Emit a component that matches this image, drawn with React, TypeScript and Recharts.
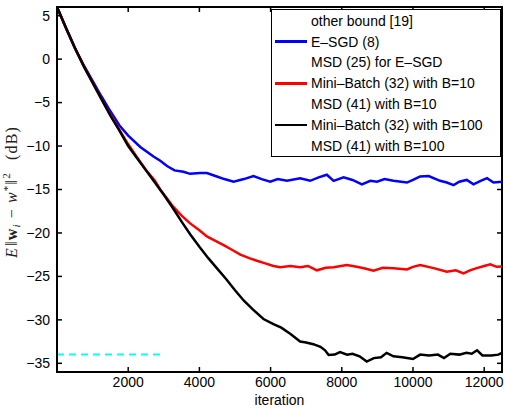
import React from "react";
import { LineChart, Line, XAxis, YAxis, Legend, ReferenceArea } from "recharts";

// E-SGD (8)
const esgdX = [
  0, 250, 500, 750, 1000, 1250, 1500, 1750, 2000, 2340, 2710, 2900, 3090, 3300, 3550, 3740, 4020,
  4210, 4490, 4700, 4960, 5250, 5520, 5750, 5990, 6200, 6460, 6830, 7110, 7350, 7580, 7770, 8050,
  8300, 8565, 8800, 8990, 9200, 9450, 9830, 10000, 10200, 10440, 10760, 10950, 11140, 11300, 11510,
  11700, 11900, 12080, 12260, 12500,
];
const esgdY = [
  6, 3.6, 1.3, -0.7, -2.5, -4.3, -6.0, -7.6, -8.8, -10.1, -11.2, -11.7, -12.3, -12.8, -12.95, -13.2,
  -13.1, -13.1, -13.5, -13.8, -14.1, -13.8, -13.45, -13.8, -14.1, -13.8, -14.0, -13.7, -14.0, -13.6,
  -13.3, -14.0, -13.6, -13.9, -14.4, -14.0, -14.1, -13.8, -14.0, -14.2, -13.9, -13.5, -13.45, -14.0,
  -14.2, -14.5, -14.1, -13.9, -14.4, -14.0, -13.7, -14.2, -14.1,
];

// Mini-Batch (32) with B=10
const mb10X = [
  0, 250, 500, 750, 1000, 1250, 1500, 1750, 2000, 2250, 2500, 2750, 2900, 3270, 3500, 3740, 4000,
  4210, 4450, 4680, 4900, 5150, 5400, 5615, 5850, 6080, 6270, 6550, 6830, 7050, 7300, 7550, 7770,
  8140, 8420, 8650, 8890, 9150, 9450, 9830, 10000, 10200, 10580, 10950, 11200, 11420, 11600, 11790,
  12000, 12170, 12350, 12500,
];
const mb10Y = [
  6, 3.6, 1.3, -0.8, -2.7, -4.6, -6.4, -8.1, -9.8, -11.3, -12.75, -14.0, -15.0, -17.0, -18.0, -18.9,
  -19.7, -20.4, -20.9, -21.4, -21.9, -22.5, -22.9, -23.2, -23.5, -23.8, -23.95, -23.8, -23.95, -23.8,
  -24.3, -24.0, -23.95, -23.7, -23.9, -24.1, -24.35, -24.0, -24.05, -24.2, -23.9, -23.7, -24.05,
  -24.45, -24.3, -24.65, -24.3, -24.05, -23.8, -23.6, -23.9, -23.85,
];

// Mini-Batch (32) with B=100
const mb100X = [
  0, 250, 500, 750, 1000, 1250, 1500, 1750, 2000, 2250, 2500, 2750, 3000, 3250, 3500, 3750, 4000,
  4250, 4500, 4750, 5000, 5250, 5500, 5800, 6080, 6300, 6550, 6830, 7000, 7200, 7400, 7530, 7630,
  7800, 7950, 8150, 8300, 8500, 8700, 8900, 9100, 9260, 9450, 9700, 10000, 10200, 10450, 10700,
  10870, 11050, 11300, 11500, 11650, 11800, 11950, 12200, 12400, 12500,
];
const mb100Y = [
  6, 3.6, 1.3, -0.8, -2.7, -4.6, -6.5, -8.2, -10.0, -11.4, -12.8, -14.2, -15.6, -17.1, -18.7, -20.2,
  -21.6, -22.9, -24.1, -25.3, -26.6, -27.8, -28.8, -29.9, -30.5, -30.9, -31.6, -32.5, -32.6, -32.8,
  -33.1, -33.5, -34.05, -34.0, -33.7, -34.0, -33.9, -34.2, -34.8, -34.4, -34.3, -33.8, -34.2, -34.3,
  -34.5, -34.0, -34.1, -34.0, -34.4, -33.9, -34.0, -33.8, -33.9, -33.5, -34.1, -34.1, -34.0, -33.8,
];

// cyan dashed bound
const boundX = [0, 3000];
const boundY = [-34, -34];

const xTicks = [2000, 4000, 6000, 8000, 10000, 12000];
const yTicks = [-35, -30, -25, -20, -15, -10, -5, 0, 5];

const legendNames = [
  "other bound [19]",
  "E\u2013SGD (8)",
  "MSD (25) for E\u2013SGD",
  "Mini\u2013Batch (32) with B=10",
  "MSD (41) with B=10",
  "Mini\u2013Batch (32) with B=100",
  "MSD (41) with B=100",
];
const legendColors = ["#ffffff", "#0000ff", "#ffffff", "#ff0000", "#ffffff", "#000000", "#ffffff"];

const toRows = (xs: number[], ys: number[]) => xs.map((x, i) => ({ x, v: ys[i] }));
const esgdData = toRows(esgdX, esgdY);
const mb10Data = toRows(mb10X, mb10Y);
const mb100Data = toRows(mb100X, mb100Y);
const boundData = toRows(boundX, boundY);

const W = 505;
const H = 408;
const TOP = 7;
const BOTTOM = 372;
const LEFT = 57;
const RIGHT = 502;
const FONT = "'Liberation Sans', Arial, Helvetica, sans-serif";

const fmt = (v: number) => (v < 0 ? "\u2212" + Math.abs(v) : String(v));

// ticks point inwards on all four sides, matlab style
const BottomTick = (props: any) => {
  const { x, payload } = props;
  return (
    <g>
      <line x1={x} x2={x} y1={BOTTOM} y2={BOTTOM - 5} stroke="#000" strokeWidth={1.5} />
      <line x1={x} x2={x} y1={TOP} y2={TOP + 5} stroke="#000" strokeWidth={1.5} />
      <text x={x} y={BOTTOM + 15} textAnchor="middle" fontSize={14} fontFamily={FONT} fill="#000">
        {payload.value}
      </text>
    </g>
  );
};

const LeftTick = (props: any) => {
  const { y, payload } = props;
  return (
    <g>
      <line x1={LEFT} x2={LEFT + 5} y1={y} y2={y} stroke="#000" strokeWidth={1.5} />
      <line x1={RIGHT} x2={RIGHT - 5} y1={y} y2={y} stroke="#000" strokeWidth={1.5} />
      <text x={LEFT - 7} y={y} dy="0.35em" textAnchor="end" fontSize={14} fontFamily={FONT} fill="#000">
        {fmt(payload.value)}
      </text>
    </g>
  );
};

const YLabel = () => (
  <text
    transform="translate(17,258) rotate(-90)"
    textAnchor="start"
    fontFamily="'Liberation Serif', 'DejaVu Serif', serif"
    fontSize={16}
    letterSpacing={1.2}
    fill="#222"
  >
    <tspan fontStyle="italic">E</tspan>
    <tspan dx={1}>{"\u2016"}</tspan>
    <tspan fontWeight="bold">w</tspan>
    <tspan fontStyle="italic" fontSize={11} dy={3}>
      i
    </tspan>
    <tspan dy={-3} dx={5}>
      {"\u2212"}
    </tspan>
    <tspan fontStyle="italic" dx={5}>
      w
    </tspan>
    <tspan fontSize={11} dy={-6}>
      *
    </tspan>
    <tspan dy={6}>{"\u2016"}</tspan>
    <tspan fontSize={11} dy={-7}>
      2
    </tspan>
    <tspan dy={7} dx={12}>
      (dB)
    </tspan>
  </text>
);

const BoxLegend = () => (
  <div
    style={{
      border: "1.5px solid #000",
      background: "#fff",
      width: 230,
      paddingTop: 0.5,
      fontFamily: FONT,
      fontSize: 14,
      boxSizing: "border-box",
    }}
  >
    {legendNames.map((name, i) => (
      <div key={name} style={{ display: "flex", alignItems: "center", height: 20.8 }}>
        <span
          style={{
            display: "inline-block",
            width: 32,
            height: 2.5,
            background: legendColors[i],
            margin: "0 4px 0 3px",
          }}
        />
        <span style={{ color: "#000", whiteSpace: "nowrap" }}>{name}</span>
      </div>
    ))}
  </div>
);

export default function App() {
  return (
    <div style={{ position: "absolute", left: 0, top: 0, background: "#fff" }}>
      <LineChart width={W} height={H} margin={{ top: TOP, right: W - RIGHT, left: 0, bottom: 0 }}>
        <XAxis
          dataKey="x"
          type="number"
          domain={[0, 12500]}
          ticks={xTicks}
          tick={<BottomTick />}
          tickLine={false}
          axisLine={{ stroke: "#000", strokeWidth: 2 }}
          height={H - BOTTOM}
          allowDataOverflow
          label={{ value: "iteration", position: "insideBottom", offset: 3, fontSize: 14, fontFamily: FONT, fill: "#000" }}
        />
        <YAxis
          type="number"
          domain={[-36, 6]}
          ticks={yTicks}
          tick={<LeftTick />}
          tickLine={false}
          axisLine={{ stroke: "#000", strokeWidth: 2 }}
          width={LEFT}
          allowDataOverflow
          label={<YLabel />}
        />
        <ReferenceArea x1={0} x2={12500} y1={-36} y2={6} fill="none" stroke="#000" strokeWidth={2} ifOverflow="visible" />
        <Legend
          layout="vertical"
          align="center"
          verticalAlign="middle"
          content={<BoxLegend />}
          wrapperStyle={{ left: 271, top: 9, width: 230 }}
        />
        <Line
          data={boundData}
          dataKey="v"
          stroke="#00ffff"
          strokeWidth={2}
          strokeDasharray="7 5"
          dot={false}
          isAnimationActive={false}
          legendType="none"
        />
        <Line data={esgdData} dataKey="v" name="esgd" stroke="#0000ff" strokeWidth={2.5} dot={false} isAnimationActive={false} />
        <Line data={mb10Data} dataKey="v" name="mb10" stroke="#ff0000" strokeWidth={2.5} dot={false} isAnimationActive={false} />
        <Line data={mb100Data} dataKey="v" name="mb100" stroke="#000000" strokeWidth={2.5} dot={false} isAnimationActive={false} />
      </LineChart>
    </div>
  );
}
